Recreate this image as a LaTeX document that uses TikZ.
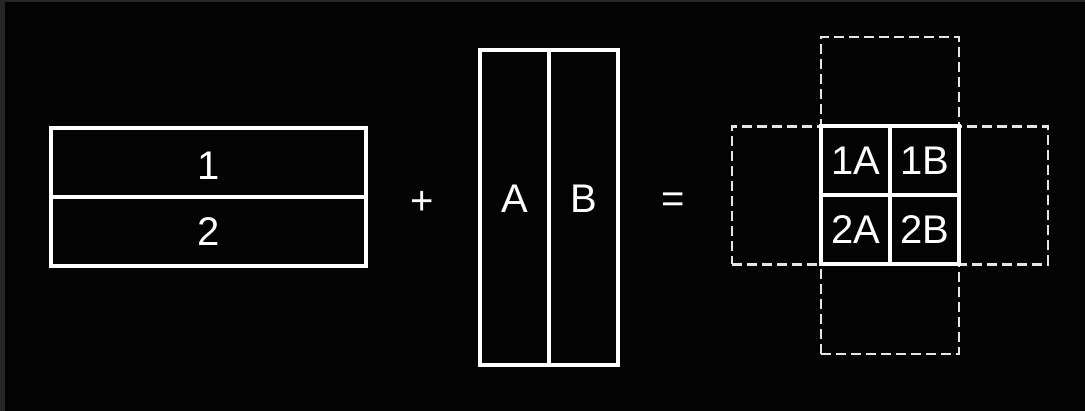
\documentclass[tikz,border=0pt]{standalone}
\usepackage{fontspec}
\setmainfont{Liberation Sans}
\usetikzlibrary{positioning}

\begin{document}
\begin{tikzpicture}[x=1pt, y=-1pt,
  cell/.style={draw=white, line width=4pt, text=white, inner sep=0pt, font=\fontsize{40}{40}\selectfont},
  lbl/.style={text=white, inner sep=0pt, font=\fontsize{40}{40}\selectfont},
  dashbox/.style={draw=white!90!black, line width=2.5pt, dash pattern=on 10pt off 5pt, inner sep=0pt}]
\definecolor{bgdark}{HTML}{030303}
\definecolor{edge}{HTML}{262626}
% background and frame strips
\fill[bgdark] (0,0) rectangle (1085,411);
\fill[edge] (0,0) rectangle (1085,2);
\fill[edge] (0,0) rectangle (5,411);
% rows 1 and 2
\node[cell, minimum width=315, minimum height=69] (row1) at (208.5,162.5) {};
\node[cell, minimum width=315, minimum height=69] (row2) at (208.5,231.5) {};
\node[lbl, yshift=-3.5pt] (t1) at (row1) {1};
\node[lbl] (t2) at (row2) {2};
\node[lbl] (plus) at (422,203) {+};
% columns A and B
\node[cell, minimum width=69, minimum height=315] (colA) at (514.5,207.5) {};
\node[cell, minimum width=69, minimum height=315] (colB) at (583.5,207.5) {};
\node[lbl, yshift=8.5pt] (tA) at (colA) {A};
\node[lbl, yshift=8.5pt] (tB) at (colB) {B};
\node[lbl] (eq) at (673,203) {=};
% product grid with dashed outlines
\node[dashbox, minimum width=138, minimum height=317] (vband) at (890,195.5) {};
\node[dashbox, minimum width=316, minimum height=138] (hband) at (890,195.5) {};
\node[cell, minimum width=69, minimum height=69] (c1A) at (855.5,160.5) {1A};
\node[cell, minimum width=69, minimum height=69] (c1B) at (924.5,160.5) {1B};
\node[cell, minimum width=69, minimum height=69] (c2A) at (855.5,229.5) {2A};
\node[cell, minimum width=69, minimum height=69] (c2B) at (924.5,229.5) {2B};
\end{tikzpicture}
\end{document}
